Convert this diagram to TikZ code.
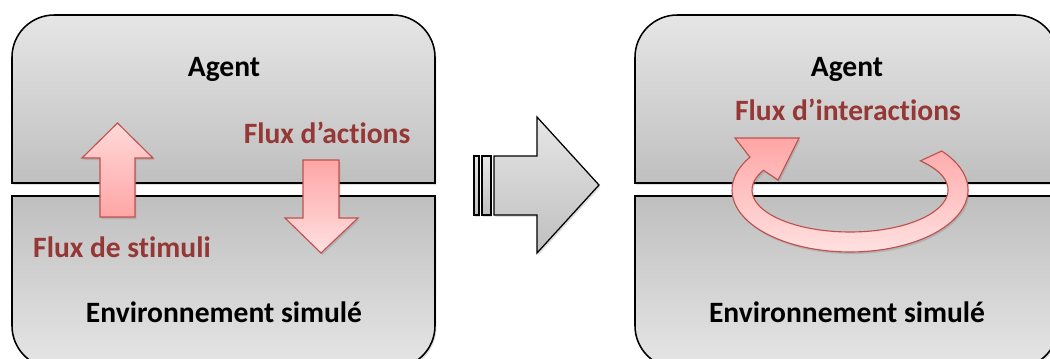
\documentclass[tikz,border=0pt]{standalone}
\usepackage{fontspec}
\setmainfont{Carlito}[Ligatures=NoCommon]
\usetikzlibrary{shadows}
\definecolor{fluxred}{HTML}{953735}
\definecolor{arrowred}{HTML}{C0504D}
\tikzset{
  panel/.style={draw=black, line width=1.1pt,
    drop shadow={opacity=0.25, shadow xshift=1pt, shadow yshift=-1.5pt}},
  agentpart/.style={panel, top color=gray!20, bottom color=gray!50},
  envpart/.style={panel, top color=gray!50, bottom color=gray!20},
  flux/.style={draw=arrowred, line width=0.8pt,
    drop shadow={opacity=0.3, shadow xshift=1pt, shadow yshift=-1.5pt}},
  titre/.style={anchor=base, inner sep=0pt, font=\fontsize{21}{25}\selectfont\bfseries},
  fluxtext/.style={titre, text=fluxred}
}

\begin{document}
\begin{tikzpicture}[x=0.025cm, y=-0.025cm]
\path[use as bounding box, fill=white] (0,0) rectangle (1050,358);
\clip (0,0) rectangle (1050,358);

\path[agentpart] (12,183) [rounded corners=30] -- (12,15) -- (435,15) [sharp corners] -- (435,183) -- cycle;
\path[envpart] (435,196) -- (12,196) [rounded corners=30] -- (12,368) -- (435,368) [sharp corners] -- cycle;

\path[agentpart] (635,183) [rounded corners=30] -- (635,15) -- (1058,15) [sharp corners] -- (1058,183) -- cycle;
\path[envpart] (1058,196) -- (635,196) [rounded corners=30] -- (635,368) -- (1058,368) [sharp corners] -- cycle;

\path[panel, line width=0.9pt, top color=gray!20, bottom color=gray!50] (474,156) rectangle (479,215);
\path[panel, line width=0.9pt, top color=gray!20, bottom color=gray!50] (482,156) rectangle (491,215);
\path[panel, line width=0.9pt, top color=gray!20, bottom color=gray!50]
  (494,156) -- (537,156) -- (537,117) -- (599,185) -- (537,253) -- (537,215) -- (494,215) -- cycle;

\path[flux, top color=red!15, bottom color=red!35]
  (100,217) -- (100,158) -- (82,158) -- (117.5,123) -- (153,158) -- (135,158) -- (135,217) -- cycle;
\path[flux, top color=red!35, bottom color=red!12]
  (303,160) -- (339,160) -- (339,218) -- (358,218) -- (321,253) -- (285,218) -- (303,218) -- cycle;

\path[flux, top color=red!35, bottom color=red!12]
  plot[domain=148:399, samples=70] ({850+118*cos(\x)}, {190-62*sin(\x)})
  -- plot[domain=404:152, samples=70] ({850+98*cos(\x)}, {190-42*sin(\x)})
  -- (778,180) -- (799,138) -- (735,138) -- cycle;

\node[titre] (agentL) at (224,76) {Agent};
\node[titre] (envL) at (224,322) {Environnement simulé};
\node[fluxtext] (actions) at (327,143) {Flux d’actions};
\node[fluxtext] (stimuli) at (122,257) {Flux de stimuli};

\node[titre] (agentR) at (847,76) {Agent};
\node[titre] (envR) at (847,322) {Environnement simulé};
\node[fluxtext] (interactions) at (848,120) {Flux d’interactions};
\end{tikzpicture}
\end{document}
